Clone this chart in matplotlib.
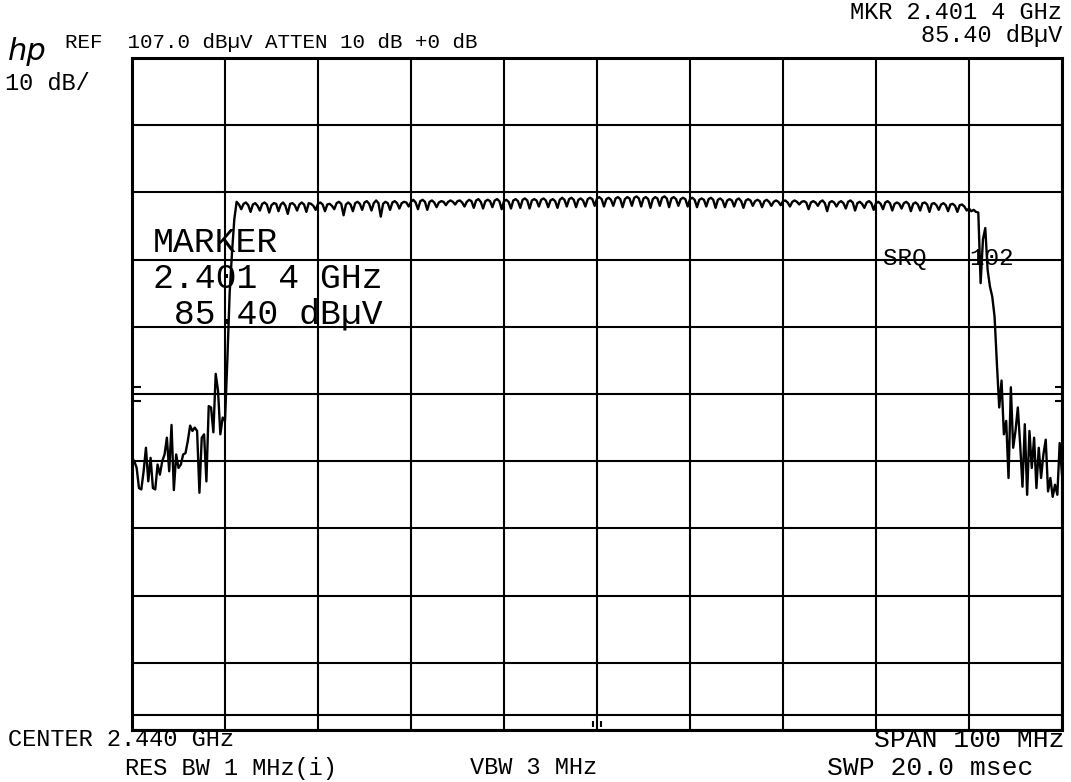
import numpy as np
import matplotlib.pyplot as plt

# sweep: center 2.440 GHz, span 100 MHz, 401 points
center_ghz = 2.440
span_ghz = 0.100
n_points = 401

# trace levels in dBuV (0.25 MHz per point)
left_skirt = [47.5, 47.0, 46.0, 43.0, 42.8, 45.5, 49.0, 44.0, 47.5, 43.0,
              42.8, 46.5, 45.0, 47.0, 48.0, 50.5, 45.5, 52.4, 42.7, 48.0,
              46.0, 46.5, 48.0, 48.2, 50.0, 52.3, 51.5, 52.0, 51.5, 42.3,
              50.5, 51.0, 44.0, 55.2, 55.0, 51.3, 60.0, 57.5, 51.0, 53.5,
              53.0, 62.0, 72.0, 78.0, 83.0, 85.6]
passband = [85.2, 84.5,
            85.3, 85.5, 85.1, 84.1, 85.2, 85.4, 85.0, 84.3, 85.3, 85.5, 85.2, 84.0, 85.1, 85.4, 85.3, 84.2,
            85.2, 85.5, 85.0, 83.8, 85.3, 85.4, 85.1, 84.3, 85.2, 85.5, 85.2, 84.1, 85.4, 85.3, 85.0, 84.4,
            85.3, 85.5, 85.2, 84.2, 85.2, 85.3, 85.0, 84.5, 85.4, 85.6, 85.3, 83.6, 85.2, 85.5, 85.2, 84.2,
            85.4, 85.6, 85.3, 84.4, 85.5, 85.7, 85.3, 84.3, 85.4, 85.8, 85.4, 83.4, 85.3, 85.6, 85.4, 84.4,
            85.5, 85.7, 85.4, 84.6, 85.4, 85.6, 85.5, 84.9, 85.6, 85.9, 85.5, 84.5, 85.7, 85.9, 85.6, 84.4,
            85.6, 85.8, 85.5, 84.8, 85.5, 85.7, 85.6, 85.1, 85.6, 85.8, 85.6, 85.2, 85.7, 85.8, 85.5, 84.9,
            85.6, 85.9, 85.7, 84.7, 85.8, 86.0, 85.6, 84.6, 85.7, 85.9, 85.7, 84.8, 85.8, 86.0, 85.7, 84.5,
            85.7, 85.9, 85.6, 84.6, 85.8, 86.0, 85.7, 84.7, 85.9, 86.1, 85.8, 84.6, 85.8, 86.0, 85.8, 84.9,
            85.9, 86.1, 85.8, 84.8, 85.8, 86.0, 85.7, 84.7, 85.9, 86.2, 85.9, 84.9, 86.0, 86.2, 85.9, 84.8,
            85.9, 86.1, 85.8, 84.9, 86.0, 86.2, 86.0, 85.0, 86.1, 86.3, 86.0, 84.9, 86.0, 86.2, 85.9, 85.0,
            86.1, 86.3, 86.0, 84.8, 86.0, 86.3, 86.1, 85.0, 86.2, 86.4, 86.1, 84.9, 86.1, 86.3, 86.0, 84.7,
            86.0, 86.3, 86.1, 85.0, 86.2, 86.4, 86.1, 84.8, 86.1, 86.3, 86.0, 85.0, 86.0, 86.2, 86.0, 84.9,
            86.0, 86.2, 85.9, 84.8, 85.9, 86.1, 85.9, 84.9, 86.0, 86.2, 85.9, 84.7, 85.9, 86.1, 85.8, 84.8,
            85.8, 86.0, 85.8, 84.9, 85.9, 86.1, 85.7, 84.7, 85.8, 86.0, 85.8, 85.0, 85.7, 85.9, 85.7, 84.8,
            85.7, 85.9, 85.6, 85.0, 85.6, 85.8, 85.6, 85.1, 85.7, 85.8, 85.5, 84.9, 85.6, 85.8, 85.6, 85.2,
            85.6, 85.7, 85.5, 84.5, 85.5, 85.7, 85.5, 85.0, 85.6, 85.8, 85.4, 84.2, 85.5, 85.7, 85.5, 84.9,
            85.5, 85.7, 85.4, 84.6, 85.6, 85.8, 85.5, 84.3, 85.4, 85.6, 85.3, 84.7, 85.5, 85.7, 85.4, 84.4,
            85.4, 85.6, 85.3, 84.5, 85.5, 85.7, 85.4, 84.3, 85.3, 85.5, 85.3, 84.6, 85.4, 85.6, 85.3, 84.2,
            85.3, 85.5, 85.2, 84.3, 85.4, 85.5, 85.2, 84.1, 85.3, 85.4, 85.1, 84.4, 85.2, 85.4, 85.1, 84.2,
            85.2, 85.3, 85.0, 84.1, 85.1, 85.2, 84.9, 84.3]
right_skirt = [84.6, 84.2, 84.4, 84.1, 84.0, 73.5, 80.0, 81.7, 75.5, 73.0,
               71.5, 68.5, 61.5, 55.0, 59.0, 51.0, 53.0, 44.5, 58.0, 49.0,
               51.5, 55.0, 49.5, 43.2, 52.5, 42.0, 51.5, 46.0, 50.5, 43.0,
               49.0, 44.5, 48.0, 50.2, 42.5, 44.5, 41.7, 43.5, 42.0, 49.7,
               45.0]

ref_level = 107.0
db_per_div = 10
ref_marks = [58.0, 56.0]   # short ticks on both edges

level = np.array(left_skirt + passband + right_skirt)
freq = np.linspace(center_ghz - span_ghz / 2, center_ghz + span_ghz / 2, n_points)

W, H = 1071, 782
fig = plt.figure(figsize=(W / 100, H / 100), dpi=100)
ax = fig.add_axes([132 / W, 1 - 730 / H, 930 / W, 672 / H])

bottom = ref_level - 10 * db_per_div
ax.plot(freq, level, color='black', lw=1.7)
ax.set_xlim(freq[0], freq[-1])
ax.set_ylim(bottom, ref_level)

ax.set_xticks(np.linspace(freq[0], freq[-1], 11))
ax.set_yticks(np.arange(bottom, ref_level + 1, db_per_div))
ax.grid(True, color='black', lw=1.5)
ax.tick_params(length=0, labelbottom=False, labelleft=False)
for s in ax.spines.values():
    s.set_linewidth(2.2)

# extra line just above the bottom edge
ax.axhline(bottom + 2.2, color='black', lw=1.5)
# reference ticks on the edges
ax.hlines(ref_marks, 0, 0.01, transform=ax.get_yaxis_transform(), color='black', lw=1.5)
ax.hlines(ref_marks, 0.992, 1, transform=ax.get_yaxis_transform(), color='black', lw=1.5)
# center marker
ax.vlines([center_ghz - 0.0004, center_ghz + 0.0004], bottom + 0.4, bottom + 1.4, color='black', lw=1.5)

mono = ['Liberation Mono', 'DejaVu Sans']


def put(x, y, s, size, ha='left', ls=1.2):
    fig.text(x / W, 1 - y / H, s, fontsize=size, ha=ha, va='center', family=mono,
             multialignment=ha, linespacing=ls)


fig.text(27 / W, 1 - 51 / H, 'hp', fontsize=22, style='italic', ha='center', va='center',
         family='DejaVu Sans', fontweight='light')
put(65, 42, 'REF  107.0 dB\u00b5V ATTEN 10 dB +0 dB', 15)
put(5, 84, '10 dB/', 17)
put(1062, 24, 'MKR 2.401 4 GHz\n85.40 dB\u00b5V', 17, ha='right', ls=0.95)

put(153, 278, 'MARKER\n2.401 4 GHz\n 85.40 dB\u00b5V', 25, ls=1.1)
put(883, 259, 'SRQ   102', 17.5)

put(8, 740, 'CENTER 2.440 GHz', 17)
put(125, 768, 'RES BW 1 MHz(i)', 17)
put(470, 768, 'VBW 3 MHz', 17)
put(1065, 740, 'SPAN 100 MHz', 19, ha='right')
put(1033, 768, 'SWP 20.0 msec', 19, ha='right')

fig.savefig('out.png', dpi=100)
